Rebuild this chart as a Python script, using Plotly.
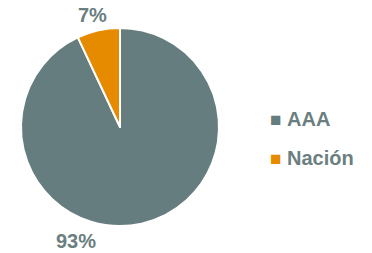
import plotly.graph_objects as go

labels = ["AAA", "Nación"]
values = [93, 7]
colors = ["#667d7f", "#e68a00"]

W, H = 372, 253
text_color = "#6b7f80"
font_family = "Liberation Sans, Arial, sans-serif"

fig = go.Figure(go.Pie(
    labels=labels,
    values=values,
    sort=False,
    direction="clockwise",
    rotation=0,
    textinfo="none",
    hoverinfo="label+percent",
    marker=dict(colors=colors, line=dict(color="white", width=2)),
    domain=dict(x=[(120 - 99) / W, (120 + 99) / W], y=[(H - 226) / H, (H - 28) / H]),
    showlegend=False,
))

total = sum(values)
pcts = [f"{round(v / total * 100)}%" for v in values]

annotations = []
# percentage labels (AAA bottom-left, Nación top)
label_pos = [(76, 241), (92, 15)]
for p, (x, y) in zip(pcts, label_pos):
    annotations.append(dict(
        x=x / W, y=1 - y / H, xref="paper", yref="paper",
        text=f"<b>{p}</b>", showarrow=False,
        font=dict(family=font_family, size=20, color=text_color),
        xanchor="center", yanchor="middle",
    ))

# legend
legend_y = [119, 158]
for lab, col, y in zip(labels, colors, legend_y):
    annotations.append(dict(
        x=268 / W, y=1 - y / H, xref="paper", yref="paper",
        text=f"<span style='color:{col};font-size:19px'>■</span> <b>{lab}</b>",
        showarrow=False,
        font=dict(family=font_family, size=20, color=text_color),
        xanchor="left", yanchor="middle",
    ))

fig.update_layout(
    width=W, height=H,
    margin=dict(l=0, r=0, t=0, b=0),
    paper_bgcolor="white", plot_bgcolor="white",
    annotations=annotations,
)

fig.write_html(
    "out.html",
    config={"displayModeBar": False},
    post_script="document.body.style.margin='0';document.body.style.overflow='hidden';",
)
